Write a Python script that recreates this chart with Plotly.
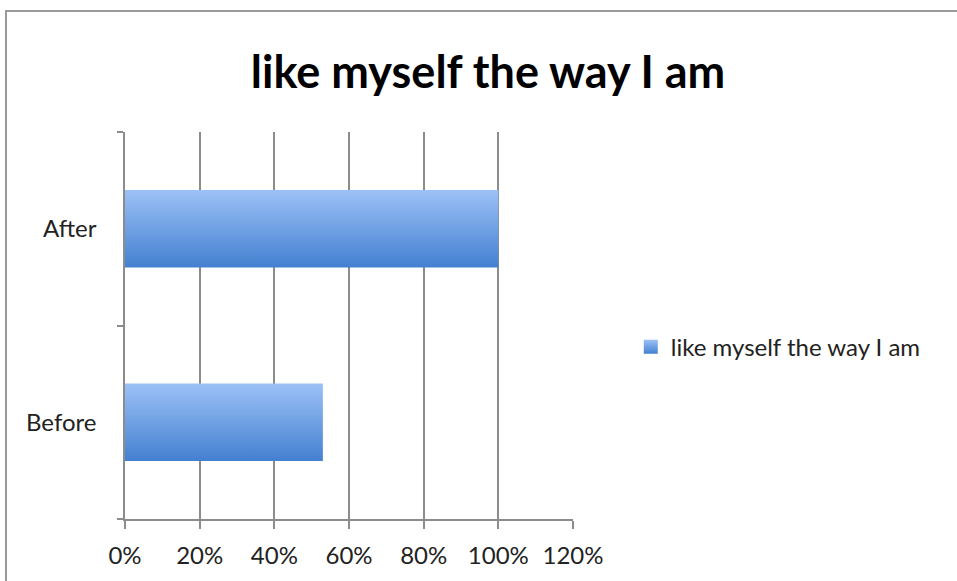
import plotly.graph_objects as go

# Survey responses: share agreeing with the statement
categories = ["Before", "After"]
values = [0.53, 1.00]
series_name = "like myself the way I am"
x_ticks = [0, 0.2, 0.4, 0.6, 0.8, 1.0, 1.2]
x_tick_labels = ["0%", "20%", "40%", "60%", "80%", "100%", "120%"]

BAR_HALF = 0.2          # half of bar thickness in category units
TOP_COLOR = "#9cc1f7"
BOTTOM_COLOR = "#4380d0"
GRID = "#8c8c8c"
FONT = "Lato, 'Open Sans', sans-serif"

fig = go.Figure()

# Horizontal bars drawn as filled polygons so they can carry a vertical gradient
for i, (cat, val) in enumerate(zip(categories, values)):
    y0, y1 = i - BAR_HALF, i + BAR_HALF
    fig.add_trace(go.Scatter(
        x=[0, val, val, 0, 0],
        y=[y0, y0, y1, y1, y0],
        mode="lines",
        fill="toself",
        line=dict(width=0, color=BOTTOM_COLOR),
        fillgradient=dict(type="vertical", start=y0, stop=y1,
                          colorscale=[[0, BOTTOM_COLOR], [1, TOP_COLOR]]),
        name=series_name,
        showlegend=False,
        hoverinfo="skip",
    ))

# Legend entry for the series
fig.add_trace(go.Scatter(
    x=[None], y=[None], mode="markers", name=series_name,
    marker=dict(symbol="square", size=14, color=TOP_COLOR,
                gradient=dict(type="vertical", color=BOTTOM_COLOR),
                line=dict(width=0)),
))

fig.update_layout(
    width=957, height=581,
    margin=dict(l=125, r=384, t=132, b=62),
    paper_bgcolor="white", plot_bgcolor="white",
    font=dict(family=FONT, color="#222222", size=24),
    title=dict(text="<b>like myself the way I am</b>", x=0.51, xanchor="center",
               y=1 - 72 / 581, yanchor="middle",
               font=dict(size=45, color="black", family=FONT)),
    legend=dict(x=1.129, y=0.444, xanchor="left", yanchor="middle",
                font=dict(size=24, color="#222222"), bgcolor="rgba(0,0,0,0)"),
    showlegend=True,
)

fig.update_xaxes(
    range=[0, 1.2], tickvals=x_ticks, ticktext=x_tick_labels,
    showgrid=True, gridcolor=GRID, gridwidth=1.5,
    showline=True, linecolor=GRID, linewidth=1.5,
    ticks="outside", ticklen=8, tickcolor=GRID, tickwidth=1.5,
    ticklabelstandoff=6, zeroline=False, fixedrange=True,
)
fig.update_yaxes(
    range=[-0.5, 1.5], tickvals=[0, 1], ticktext=categories,
    showgrid=False, showline=True, linecolor=GRID, linewidth=1.5,
    ticks="", ticklabelstandoff=22, zeroline=False, fixedrange=True,
    minor=dict(tickvals=[-0.5, 0.5, 1.5], ticks="outside", ticklen=6,
               tickcolor=GRID, tickwidth=1.5, showgrid=False),
)

# Chart frame
fig.add_shape(type="rect", xref="paper", yref="paper",
              x0=(6 - 125) / 448, x1=(970 - 125) / 448,
              y0=-(600 - 519) / 387, y1=(519 - 11) / 387,
              line=dict(color="#9a9a9a", width=2), fillcolor="rgba(0,0,0,0)",
              layer="below")

fig.write_html("out.html")
